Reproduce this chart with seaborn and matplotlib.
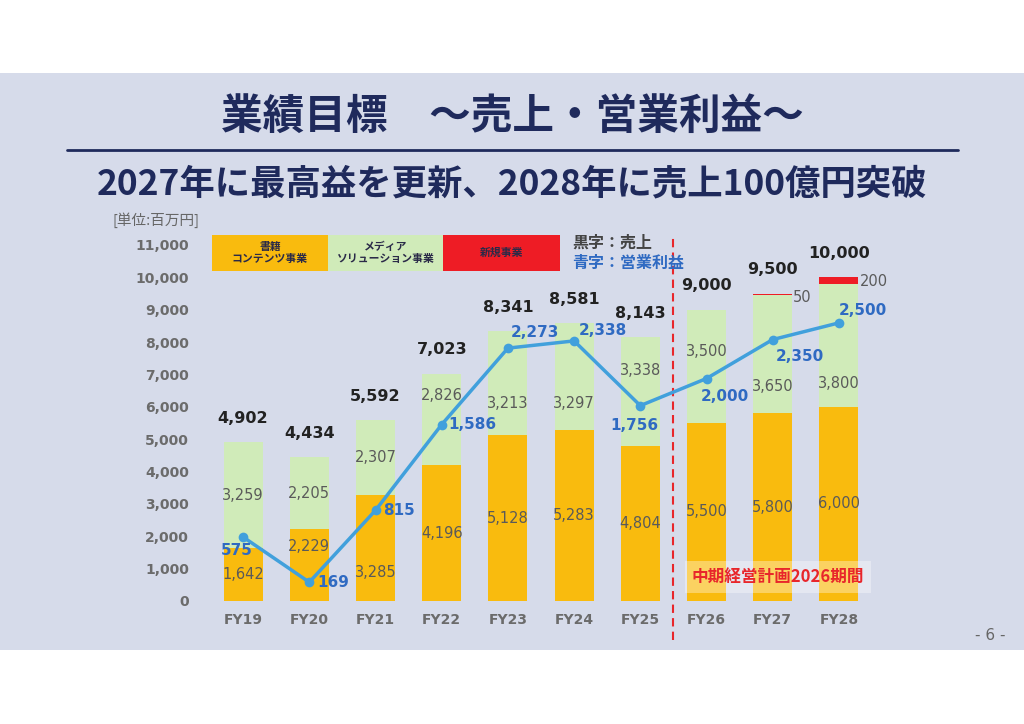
import matplotlib
matplotlib.use("Agg")
import matplotlib.pyplot as plt
import seaborn as sns
import numpy as np
import pandas as pd
from matplotlib.patches import Rectangle
from matplotlib.lines import Line2D

# data
years = ['FY19', 'FY20', 'FY21', 'FY22', 'FY23', 'FY24', 'FY25', 'FY26', 'FY27', 'FY28']
books = [1642, 2229, 3285, 4196, 5128, 5283, 4804, 5500, 5800, 6000]
media = [3259, 2205, 2307, 2826, 3213, 3297, 3338, 3500, 3650, 3800]
new_biz = [0, 0, 0, 0, 0, 0, 0, 0, 50, 200]
sales = [4902, 4434, 5592, 7023, 8341, 8581, 8143, 9000, 9500, 10000]
profit = [575, 169, 815, 1586, 2273, 2338, 1756, 2000, 2350, 2500]

# label nudges (pixels)
media_dy = [0, 0, 0, 24, -20, -27, 21, 15, -32, -38]
books_dy = [0, 18, -25, 0, 0, 0, 0, 0, 0, 0]
profit_off = [(-6, -13), (24, 0), (23, 0), (31, 0), (27, 16), (29, 10),
              (-6, -20), (18, -18), (27, -17), (24, 12)]

ORANGE = '#f9bb0e'
GREEN = '#d0ebb9'
RED = '#ee1c25'
NAVY = '#1f2a5c'
BLUE_TXT = '#2f6ac2'
LINE = '#41a0dc'
GRAY = '#5a5a5a'

sns.set_theme(style='white')
plt.rcParams['font.family'] = ['Noto Sans CJK JP', 'DejaVu Sans']
NUM = ['DejaVu Sans']

W, H = 1024, 724
fig = plt.figure(figsize=(W / 100, H / 100), dpi=100)
fig.patch.set_facecolor('white')


def fx(x):
    return x / W


def fy(y):
    return 1 - y / H


# slide background
fig.add_artist(Rectangle((0, fy(650)), 1, fy(73) - fy(650), transform=fig.transFigure,
                         facecolor='#d6dbea', edgecolor='none', zorder=-10))

# titles
fig.text(0.5, fy(118), '業績目標\u3000～売上・営業利益～', ha='center', va='center',
         fontsize=30, fontweight='bold', color=NAVY)
fig.add_artist(Line2D([fx(67), fx(958)], [fy(150), fy(150)], transform=fig.transFigure,
                      color=NAVY, lw=2))
fig.text(0.5, fy(184), '2027年に最高益を更新、2028年に売上100億円突破', ha='center', va='center',
         fontsize=25.5, fontweight='bold', color=NAVY)
fig.text(fx(113), fy(220), '[単位:百万円]', ha='left', va='center', fontsize=10.5, color='#666666')
fig.text(fx(990), fy(636), '- 6 -', ha='center', va='center', fontsize=11, color='#666666',
         family=NUM)

# legend boxes
legend_items = [(212, 328, ORANGE, '書籍\nコンテンツ事業'),
                (328, 443, GREEN, 'メディア\nソリューション事業'),
                (443, 560, RED, '新規事業')]
for x0, x1, c, t in legend_items:
    fig.add_artist(Rectangle((fx(x0), fy(271)), fx(x1 - x0), fy(235) - fy(271),
                             transform=fig.transFigure, facecolor=c, edgecolor='none'))
    fig.text(fx((x0 + x1) / 2), fy(253), t, ha='center', va='center', fontsize=7.8,
             fontweight='bold', color='#2a2a48', linespacing=1.3)
fig.text(fx(572), fy(243), '黒字：売上', ha='left', va='center', fontsize=11.5,
         fontweight='bold', color='#444444')
fig.text(fx(572), fy(263), '青字：営業利益', ha='left', va='center', fontsize=11.5,
         fontweight='bold', color=BLUE_TXT)

# main axes
ax = fig.add_axes([fx(210), fy(601), fx(872 - 210), fy(245) - fy(601)])
ax.set_facecolor('none')

df = pd.DataFrame({'year': years, 'books': books, 'media': media,
                   'new': new_biz, 'sales': sales, 'profit': profit})
df['media_top'] = df['books'] + df['media']
df['new_top'] = df['media_top'] + df['new']

red_df = df[df['new'] > 0]
sns.barplot(data=red_df, x='year', y='new_top', order=years, color=RED, saturation=1,
            width=0.59, linewidth=0, ax=ax)
sns.barplot(data=df, x='year', y='media_top', order=years, color=GREEN, saturation=1,
            width=0.59, linewidth=0, ax=ax)
sns.barplot(data=df, x='year', y='books', order=years, color=ORANGE, saturation=1,
            width=0.59, linewidth=0, ax=ax)

ax.set_xlim(-0.5, 9.5)
ax.set_ylim(0, 11000)
ax.set_yticks(np.arange(0, 11001, 1000))
ax.set_yticklabels([f'{v:,}' for v in range(0, 11001, 1000)], family=NUM,
                   fontsize=10, fontweight='bold', color='#6b6b6b')
ax.set_xticks(range(len(years)))
ax.set_xticklabels(years, family=NUM, fontsize=10, fontweight='bold', color='#6b6b6b')
ax.tick_params(axis='y', length=0, pad=15)
ax.tick_params(axis='x', length=0, pad=9)
ax.set_xlabel('')
ax.set_ylabel('')
for s in ax.spines.values():
    s.set_visible(False)
ax.grid(False)

# segment labels
for i, row in df.iterrows():
    ax.annotate(f"{row['books']:,}", (i, row['books'] / 2), xytext=(0, books_dy[i]),
                textcoords='offset pixels', ha='center', va='center', fontsize=10.5,
                color=GRAY, family=NUM)
    ax.annotate(f"{row['media']:,}", (i, row['books'] + row['media'] / 2),
                xytext=(0, media_dy[i]), textcoords='offset pixels', ha='center',
                va='center', fontsize=10.5, color=GRAY, family=NUM)
    ax.annotate(f"{row['sales']:,}", (i, row['sales']), xytext=(0, 24),
                textcoords='offset pixels', ha='center', va='center', fontsize=11.5,
                fontweight='bold', color='#222222', family=NUM)
    if row['new'] > 0:
        ax.annotate(f"{row['new']:,}", (i + 0.295, row['new_top']), xytext=(1, -4),
                    textcoords='offset pixels', ha='left', va='center', fontsize=10.5,
                    color=GRAY, family=NUM)

# plan period divider
ax.axvline(6.5, ymin=-0.11, ymax=1.022, color='#e8262b', lw=1.5, ls=(0, (4, 2.5)),
           clip_on=False)
ax.text(8.08, 740, '中期経営計画2026期間', ha='center', va='center', fontsize=12,
        fontweight='bold', color='#e8262b',
        bbox=dict(boxstyle='square,pad=0.4', facecolor='white', alpha=0.35, edgecolor='none'))

# operating profit line on hidden twin axis
ax2 = ax.twinx()
sns.lineplot(x=np.arange(len(years)), y=profit, color=LINE, lw=2.5, marker='o',
             markersize=7, markeredgewidth=0, ax=ax2)
ax2.set_ylim(0, 3200)
ax2.set_xlim(-0.5, 9.5)
ax2.axis('off')
for i, v in enumerate(profit):
    dx, dy = profit_off[i]
    ax2.annotate(f'{v:,}', (i, v), xytext=(dx, dy), textcoords='offset pixels',
                 ha='center', va='center', fontsize=11, fontweight='bold',
                 color=BLUE_TXT, family=NUM)

fig.savefig('out.png', dpi=100)
